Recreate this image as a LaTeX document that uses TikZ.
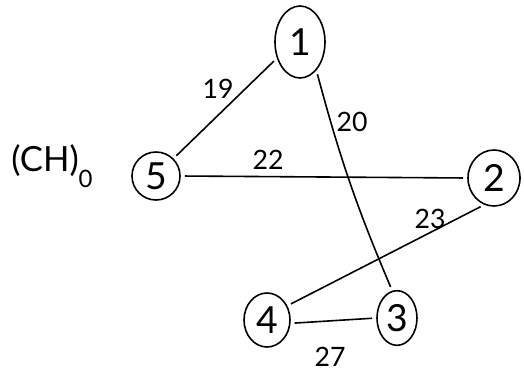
\documentclass[tikz,border=0pt]{standalone}
\usepackage{fontspec}
\setmainfont{Lato}
\usetikzlibrary{shapes.geometric}
\begin{document}
\begin{tikzpicture}[x=0.75pt,y=-0.75pt,
  vert/.style={ellipse,draw,line width=1.2pt,inner sep=0pt,font=\fontsize{28}{28}\selectfont},
  edge/.style={line width=1.2pt,shorten >=3pt,shorten <=3pt},
  wlabel/.style={inner sep=0pt,font=\fontsize{20}{20}\selectfont}]
\useasboundingbox (0,0) rectangle (524,372);
\node[vert,minimum width=37.5pt,minimum height=54pt] (n1) at (300,42) {1};
\node[vert,minimum width=36pt,minimum height=36pt] (n5) at (156,176) {5};
\node[vert,minimum width=39pt,minimum height=42pt] (n2) at (494,178) {2};
\node[vert,minimum width=34.5pt,minimum height=40.5pt] (n4) at (267,320) {4};
\node[vert,minimum width=30pt,minimum height=41pt] (n3) at (397,318) {3};
\node[inner sep=0pt,font=\fontsize{26}{26}\selectfont] (ch) at (52,166) {(CH)\raisebox{-0.45em}{\fontsize{18}{18}\selectfont 0}};
\draw[edge] (n1.215) -- (n5.45);
\draw[edge] (n1.300) to[bend right=4] (n3.100);
\draw[edge] (n5.east) -- (n2.west);
\draw[edge] (n2.250) -- (n4.35);
\draw[edge] (n4.-8) -- (n3.west);
\node[wlabel] (l19) at (218,89) {19};
\node[wlabel] (l20) at (352,122) {20};
\node[wlabel] (l22) at (268,160) {22};
\node[wlabel] (l23) at (430,219) {23};
\node[wlabel] (l27) at (330,357) {27};
\end{tikzpicture}
\end{document}
